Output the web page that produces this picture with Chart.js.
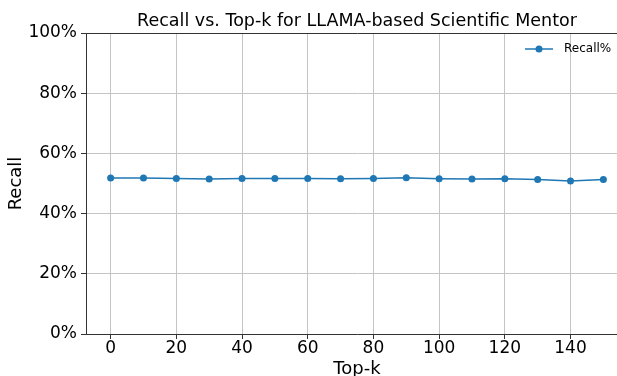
<!DOCTYPE html>
<html>
<head>
<meta charset="utf-8">
<script src="https://cdn.jsdelivr.net/npm/chart.js@4.4.0/dist/chart.umd.min.js"></script>
<style>
  html, body { margin: 0; padding: 0; background: #fff; overflow: hidden; }
  #wrap { width: 617px; height: 376px; overflow: hidden; }
  canvas { display: block; }
</style>
</head>
<body>
<div id="wrap"><canvas id="chart" width="660" height="390"></canvas></div>
<script>
const topK = [0, 10, 20, 30, 40, 50, 60, 70, 80, 90, 100, 110, 120, 130, 140, 150];
const recallPct = [51.8, 51.8, 51.7, 51.5, 51.7, 51.7, 51.7, 51.6, 51.7, 51.9, 51.6, 51.5, 51.6, 51.3, 50.8, 51.3];
const xTicks = [0, 20, 40, 60, 80, 100, 120, 140];
const yTicks = [0, 20, 40, 60, 80, 100];
const seriesName = "Recall%";
const titleText = "Recall vs. Top-k for LLAMA-based Scientific Mentor";

const BLUE = "#1f77b4";
const GRID = "#c4c4c4";
const SPINE = "#333333";

Chart.defaults.font.family = "DejaVu Sans";
Chart.defaults.color = "#000";

// matplotlib style legend: short line with a dot, no frame
const lineLegend = {
  id: "lineLegend",
  afterDraw(chart) {
    const ctx = chart.ctx;
    const y = 49;
    ctx.save();
    ctx.strokeStyle = BLUE;
    ctx.lineWidth = 1.5;
    ctx.beginPath();
    ctx.moveTo(525, y);
    ctx.lineTo(553, y);
    ctx.stroke();
    ctx.fillStyle = BLUE;
    ctx.beginPath();
    ctx.arc(539, y, 3.5, 0, Math.PI * 2);
    ctx.fill();
    ctx.fillStyle = "#000";
    ctx.font = "12px 'DejaVu Sans'";
    ctx.textBaseline = "middle";
    ctx.fillText(chart.data.datasets[0].label, 564, y);
    ctx.restore();
  }
};

new Chart(document.getElementById("chart"), {
  type: "line",
  data: {
    datasets: [{
      label: seriesName,
      data: topK.map((k, i) => ({ x: k, y: recallPct[i] })),
      borderColor: BLUE,
      backgroundColor: BLUE,
      borderWidth: 1.5,
      pointRadius: 3.5,
      pointBorderWidth: 0,
      pointBackgroundColor: BLUE,
      tension: 0
    }]
  },
  options: {
    responsive: false,
    animation: false,
    devicePixelRatio: 1,
    layout: { padding: { left: 0, right: 32, top: 0, bottom: 0 } },
    plugins: {
      legend: { display: false },
      tooltip: { enabled: false },
      title: {
        display: true,
        fullSize: false,
        text: titleText,
        color: "#000",
        font: { size: 17.5, weight: "normal", lineHeight: 1.2 },
        padding: { top: 11, bottom: 1 }
      }
    },
    scales: {
      x: {
        type: "linear",
        min: -7.5,
        max: 157.5,
        afterBuildTicks: (scale) => { scale.ticks = xTicks.map(v => ({ value: v })); },
        afterFit: (scale) => { scale.height = 390 - 334; },
        ticks: { font: { size: 17, lineHeight: 1 }, padding: 1, maxRotation: 0, color: "#000" },
        grid: { color: GRID, lineWidth: 1, tickLength: 5, tickColor: SPINE },
        border: { color: SPINE, width: 1 },
        title: {
          display: true,
          text: "Top-k",
          color: "#000",
          font: { size: 18, lineHeight: 1.2 },
          padding: { top: 0, bottom: 10 }
        }
      },
      y: {
        min: 0,
        max: 100,
        afterBuildTicks: (scale) => { scale.ticks = yTicks.map(v => ({ value: v })); },
        afterFit: (scale) => { scale.width = 86; },
        ticks: { font: { size: 17 }, padding: 4, color: "#000", callback: (v) => v + "%" },
        grid: {
          color: (c) => (c.tick && c.tick.value === 100 ? SPINE : GRID),
          lineWidth: 1,
          tickLength: 5,
          tickColor: SPINE
        },
        border: { color: SPINE, width: 1 },
        title: {
          display: true,
          text: "Recall",
          color: "#000",
          font: { size: 18, lineHeight: 1.2 },
          padding: { top: 6, bottom: 0 }
        }
      }
    }
  },
  plugins: [lineLegend]
});
</script>
</body>
</html>
